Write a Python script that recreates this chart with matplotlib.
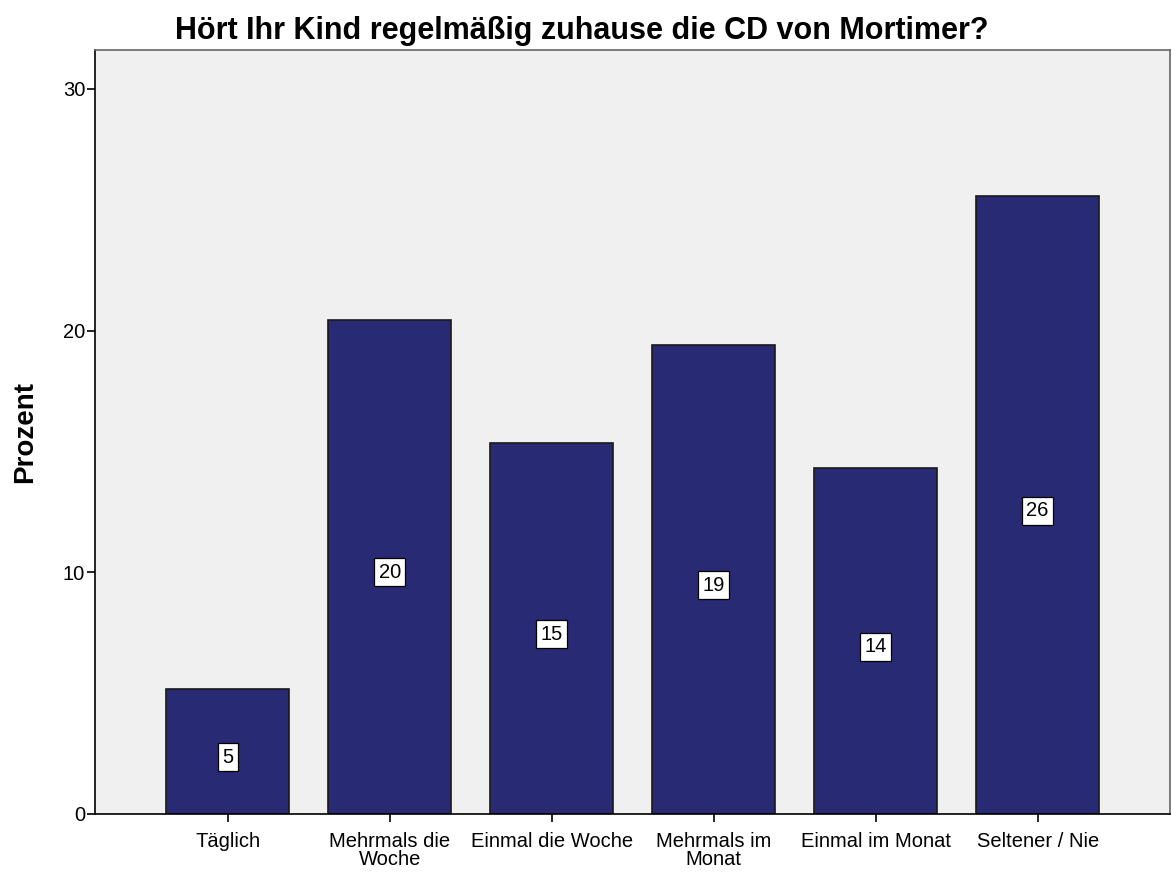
import matplotlib
matplotlib.use("Agg")
import matplotlib.pyplot as plt
import numpy as np

plt.rcParams['font.family'] = ['Liberation Sans', 'DejaVu Sans']

# Daten
kategorien = ["Täglich", "Mehrmals die\nWoche", "Einmal die Woche",
              "Mehrmals im\nMonat", "Einmal im Monat", "Seltener / Nie"]
prozent = [5.15, 20.45, 15.35, 19.4, 14.3, 25.55]
beschriftung = ["5", "20", "15", "19", "14", "26"]
y_ticks = [0, 10, 20, 30]

fig = plt.figure(figsize=(11.72, 8.73), dpi=100)
ax = fig.add_axes([0.081, 0.0676, 0.917, 0.875])
ax.set_facecolor("#f0f0f0")

x = np.arange(len(kategorien))
ax.bar(x, prozent, width=0.76, color="#282a73", edgecolor="#1a1a1a", linewidth=1.2, zorder=2)

for xi, v, t in zip(x, prozent, beschriftung):
    ax.annotate(t, (xi, v / 2), xytext=(0, -4), textcoords="offset points",
                ha="center", va="center", fontsize=14.5, zorder=3,
                bbox=dict(boxstyle="square,pad=0.22", fc="white", ec="black", lw=0.9))

ax.set_xlim(-0.821, 5.815)
ax.set_ylim(0, 31.6)
ax.set_xticks(x)
ax.set_xticklabels(kategorien, fontsize=14.5, linespacing=0.95)
ax.set_yticks(y_ticks)
ax.tick_params(axis="y", labelsize=14.5, length=6, width=1.2, pad=1)
ax.tick_params(axis="x", length=6, width=1.2, pad=7)

for s in ["left", "bottom"]:
    ax.spines[s].set_color("black")
    ax.spines[s].set_linewidth(1.2)
for s in ["top", "right"]:
    ax.spines[s].set_color("#666666")
    ax.spines[s].set_linewidth(1.2)

ax.set_ylabel("Prozent", fontsize=20, fontweight="bold", labelpad=18)
ax.set_title("Hört Ihr Kind regelmäßig zuhause die CD von Mortimer?", fontsize=22,
             fontweight="bold", pad=8, x=0.453)

fig.savefig("out.png", dpi=100)
